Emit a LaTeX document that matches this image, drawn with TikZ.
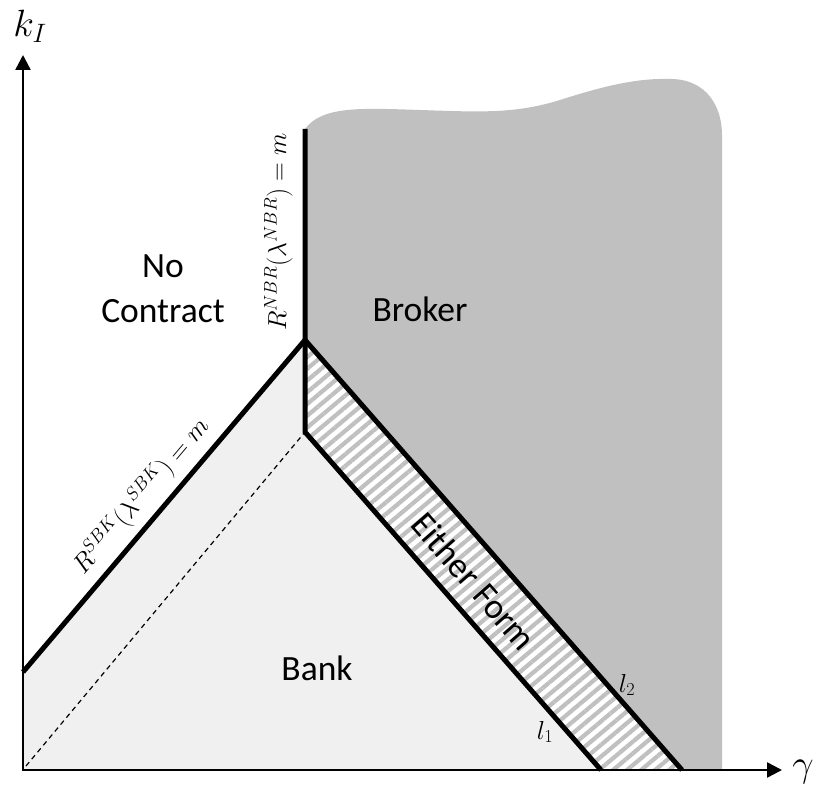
\RequirePackage{fix-cm}
\documentclass[tikz,border=0pt]{standalone}
\usepackage{fontspec}
\setsansfont{Carlito}
\usetikzlibrary{arrows.meta,patterns.meta}
\definecolor{bankfill}{HTML}{F0F0F0}
\definecolor{brokerfill}{HTML}{C0C0C0}
\definecolor{hatchgray}{HTML}{C0C0C0}
\begin{document}
\begin{tikzpicture}[x=1pt,y=-1pt,
  region/.style={font=\sffamily\fontsize{35.5}{45}\selectfont, align=center, inner sep=0pt},
  mathlabel/.style={font=\fontsize{26}{30}\selectfont, inner sep=0pt},
  axislabel/.style={font=\fontsize{38}{42}\selectfont, inner sep=0pt},
  boundary/.style={line width=5pt, line join=miter, line cap=butt},
  axisline/.style={line width=2.5pt, {Triangle[length=15pt,width=15pt]}-{Triangle[length=15pt,width=15pt]}}
]
\useasboundingbox (0,0) rectangle (817,791);

% key points of the diagram
\coordinate (O)    at (23,770);
\coordinate (ytip) at (23,55);
\coordinate (xtip) at (782,770);
\coordinate (A)    at (23,672);   % SBK boundary meets the k_I axis
\coordinate (P)    at (305,340);  % apex
\coordinate (Q)    at (305,432);  % lower corner of the band
\coordinate (T)    at (305,129);  % top of the NBR boundary
\coordinate (L1)   at (601,770);  % l_1 meets the gamma axis
\coordinate (L2)   at (682,770);  % l_2 meets the gamma axis
\coordinate (Rb)   at (722,770);  % lower right corner of the broker area

% bank area (light)
\fill[bankfill] (O) -- (A) -- (P) -- (Q) -- (L1) -- cycle;

% broker area (dark) with a wavy upper edge
\fill[brokerfill] (T) .. controls (322,106) and (360,108) .. (420,110)
  .. controls (480,112) and (515,114) .. (560,100)
  .. controls (610,84) and (640,78) .. (672,79)
  .. controls (708,80) and (722,108) .. (722,135)
  -- (Rb) -- (L2) -- (P) -- cycle;

% band where either form works
\fill[white] (P) -- (Q) -- (L1) -- (L2) -- cycle;
\fill[pattern={Lines[angle=40,distance=9pt,line width=4.2pt]}, pattern color=hatchgray]
  (P) -- (Q) -- (L1) -- (L2) -- cycle;

% dashed ray from the origin
\draw[dashed, line width=1.2pt, dash pattern=on 5pt off 4pt] (26,766) -- (Q);

% boundaries
\draw[boundary] (A) -- (P) -- (L2);
\draw[boundary] (T) -- (Q) -- (L1);

% axes
\draw[axisline] (ytip) -- (O) -- (xtip);
\node[axislabel] (kI) at (30,26) {$k_I$};
\node[axislabel] (gam) at (803,772) {$\gamma$};

% region names
\node[region] (nocontract) at (163,289) {No\\Contract};
\node[region, anchor=base] (broker) at (420,322) {Broker};
\node[region, anchor=base] (bank) at (317,680) {Bank};
\node[region, rotate=-48.8] (either) at (474,581) {Either Form};

% boundary labels
\node[mathlabel, rotate=90, anchor=base] (nbr) at (286,232) {$R^{NBR}(\lambda^{NBR})=m$};
\node[mathlabel, rotate=49.7, anchor=base] (sbk) at (147,501) {$R^{SBK}(\lambda^{SBK})=m$};
\node[mathlabel] (l1) at (545,732) {$l_1$};
\node[mathlabel] (l2) at (627,685) {$l_2$};
\end{tikzpicture}
\end{document}
